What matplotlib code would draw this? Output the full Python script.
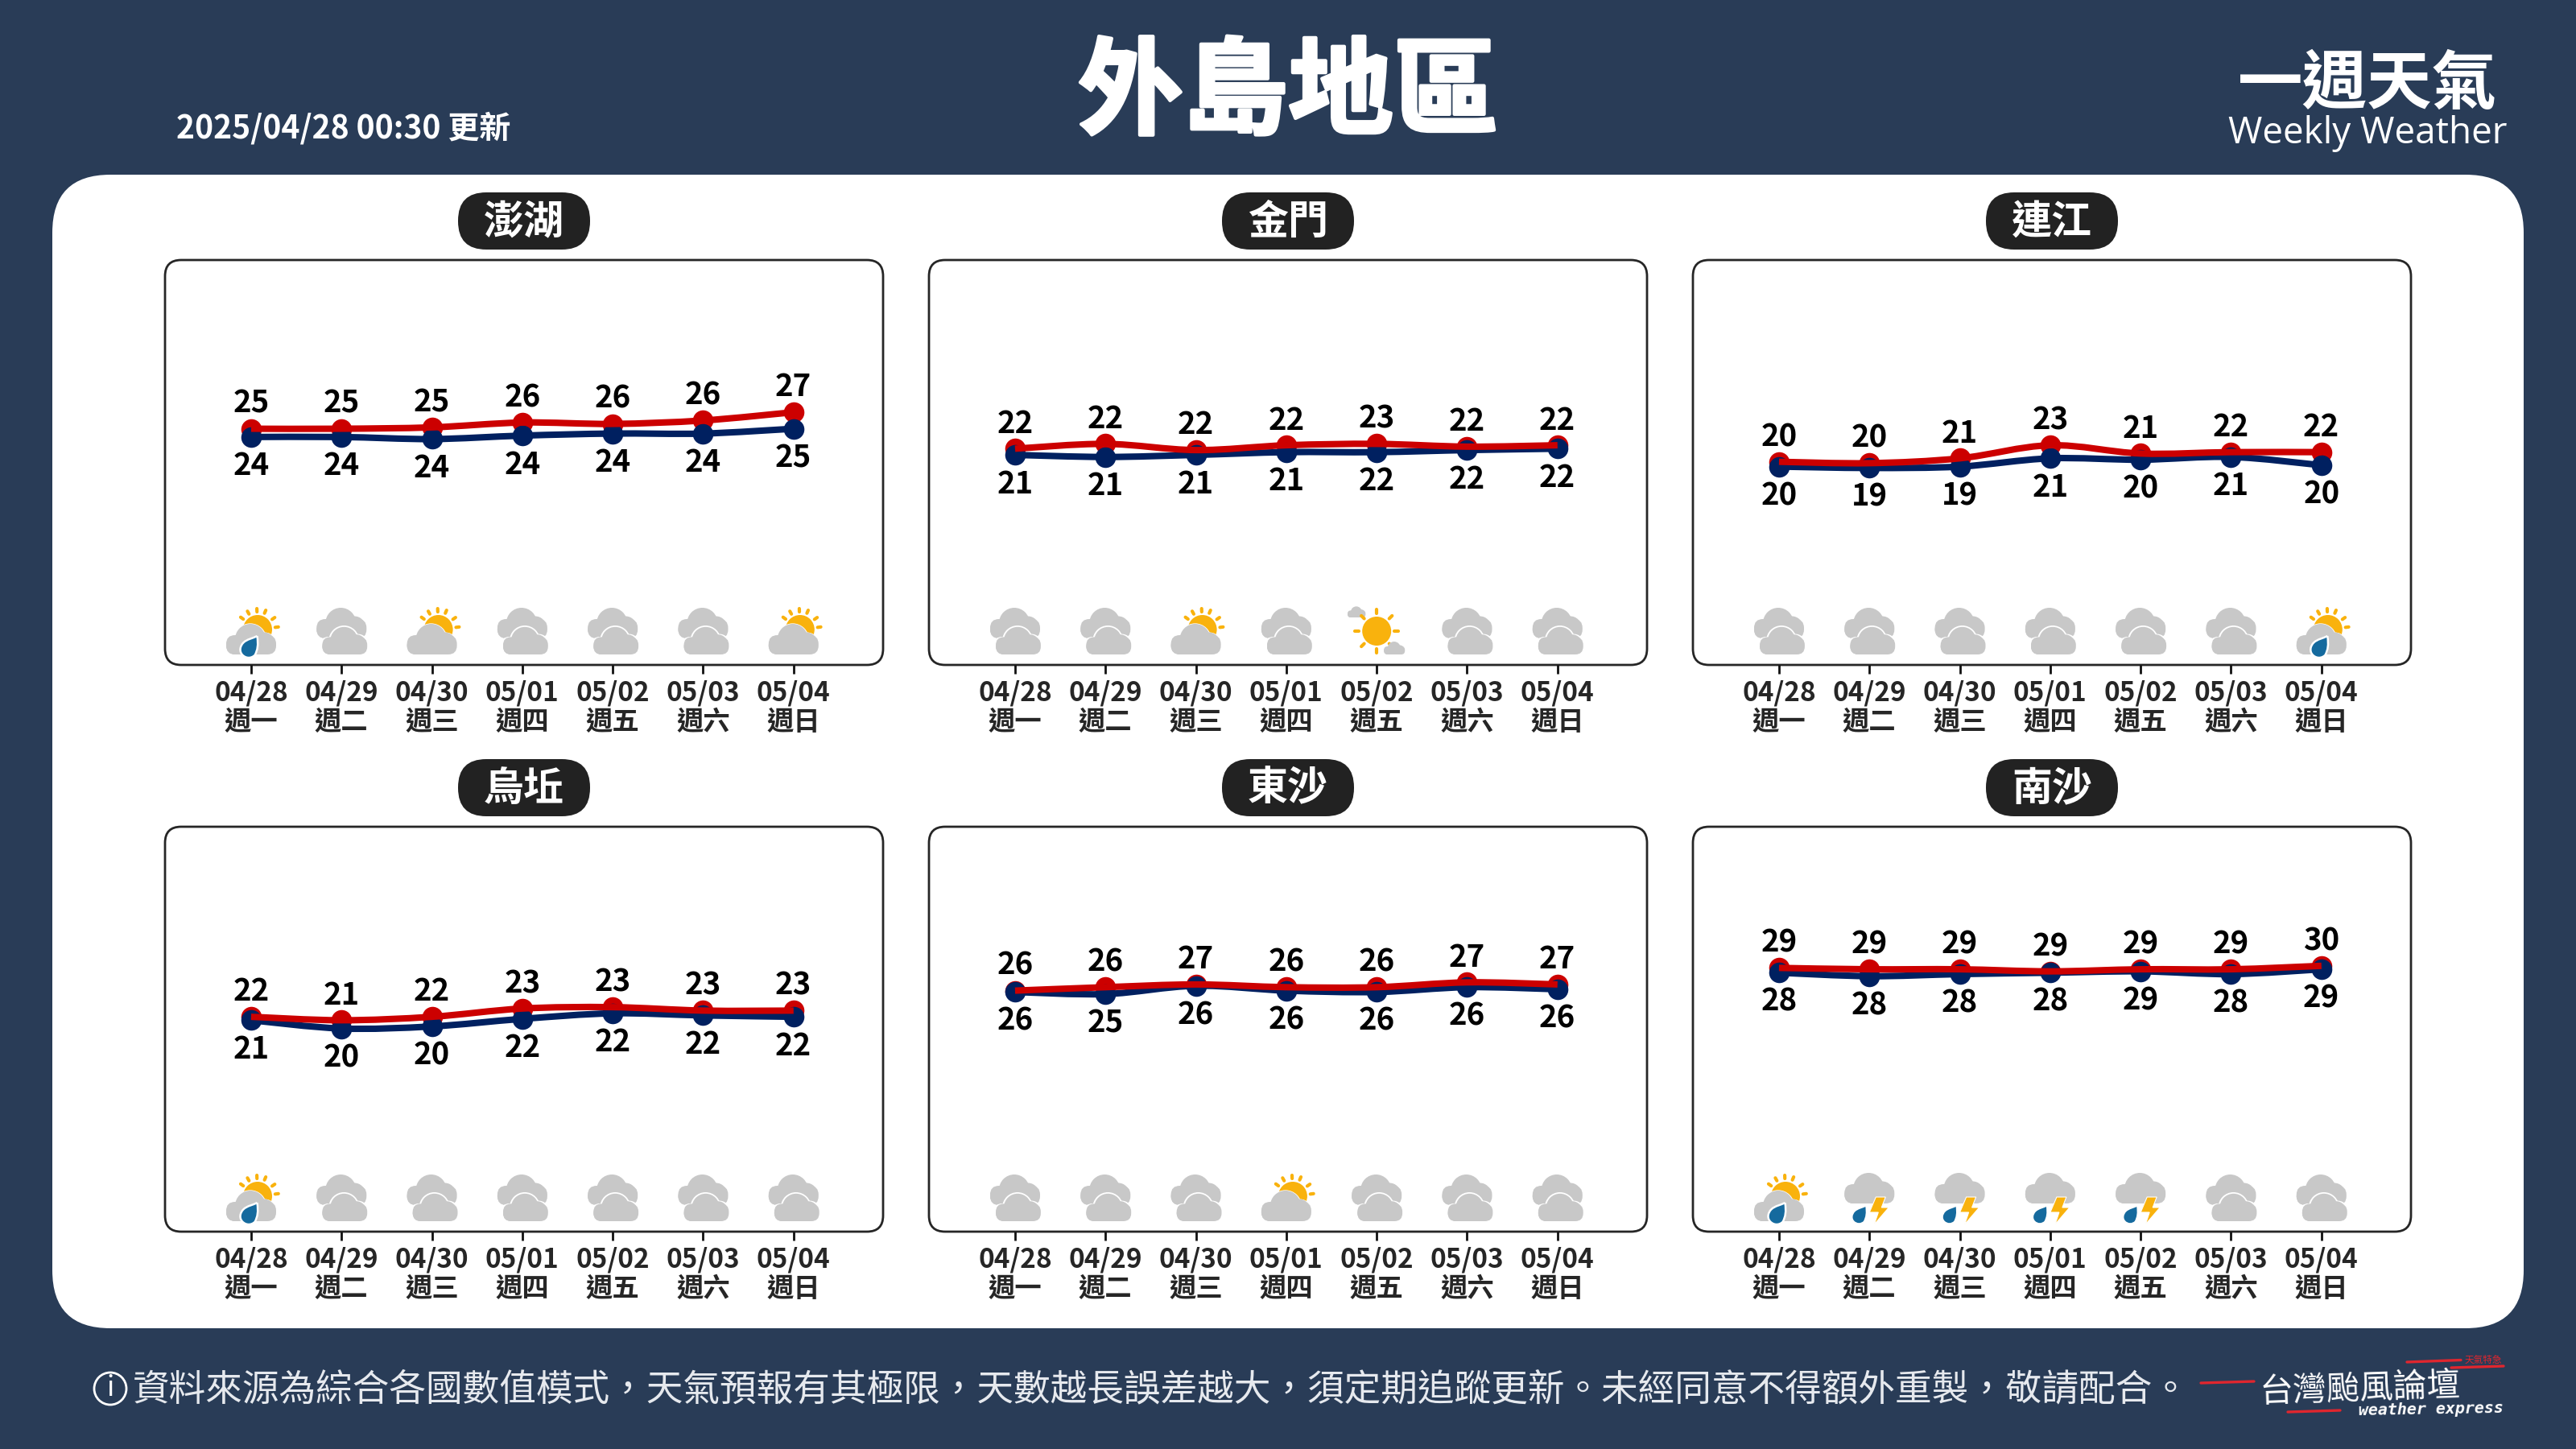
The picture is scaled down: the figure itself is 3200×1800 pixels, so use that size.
import matplotlib
matplotlib.use('Agg')
import matplotlib.pyplot as plt
import matplotlib.patheffects as pe
from matplotlib.patches import Circle, FancyBboxPatch, PathPatch, Polygon
from matplotlib.path import Path
import numpy as np

plt.rcParams['font.family'] = ['Noto Sans CJK TC', 'DejaVu Sans']

# chart values
stations = ['澎湖', '金門', '連江', '烏坵', '東沙', '南沙']
dates = ['04/28', '04/29', '04/30', '05/01', '05/02', '05/03', '05/04']
weekdays = ['週一', '週二', '週三', '週四', '週五', '週六', '週日']

penghu_high = [25.0, 25.0, 25.2, 25.9, 25.7, 26.2, 27.4]
penghu_low = [23.8, 23.8, 23.5, 24.0, 24.3, 24.3, 25.0]
kinmen_high = [22.1, 22.8, 21.9, 22.6, 22.8, 22.4, 22.6]
kinmen_low = [21.2, 20.9, 21.2, 21.6, 21.6, 21.9, 22.1]
lienchiang_high = [20.2, 20.0, 20.7, 22.6, 21.4, 21.6, 21.6]
lienchiang_low = [19.5, 19.3, 19.5, 20.7, 20.5, 20.9, 19.7]
wuqiu_high = [21.9, 21.4, 21.9, 23.1, 23.3, 22.8, 22.8]
wuqiu_low = [21.4, 20.2, 20.5, 21.6, 22.4, 22.1, 21.9]
dongsha_high = [25.7, 26.2, 26.6, 26.2, 26.2, 26.9, 26.6]
dongsha_low = [25.5, 25.2, 26.4, 25.7, 25.5, 26.2, 25.9]
nansha_high = [29.0, 28.8, 28.8, 28.5, 28.8, 28.8, 29.3]
nansha_low = [28.3, 27.8, 28.1, 28.3, 28.5, 28.1, 28.8]

highs = [penghu_high, kinmen_high, lienchiang_high, wuqiu_high, dongsha_high, nansha_high]
lows = [penghu_low, kinmen_low, lienchiang_low, wuqiu_low, dongsha_low, nansha_low]

# printed labels do not always equal the rounded line position
high_labels = [
    [25, 25, 25, 26, 26, 26, 27],
    [22, 22, 22, 22, 23, 22, 22],
    [20, 20, 21, 23, 21, 22, 22],
    [22, 21, 22, 23, 23, 23, 23],
    [26, 26, 27, 26, 26, 27, 27],
    [29, 29, 29, 29, 29, 29, 30],
]
low_labels = [
    [24, 24, 24, 24, 24, 24, 25],
    [21, 21, 21, 21, 22, 22, 22],
    [20, 19, 19, 21, 20, 21, 20],
    [21, 20, 20, 22, 22, 22, 22],
    [26, 25, 26, 26, 26, 26, 26],
    [28, 28, 28, 28, 29, 28, 29],
]

# c = cloudy, p = partly sunny, r = sun and rain, t = thunder, s = sunny
icons = ['rcpcccp', 'ccpcscc', 'ccccccr', 'rcccccc', 'cccpccc', 'rttttcc']

BG = '#293c57'
RED = '#cc0000'
NAVY = '#002060'
GREY = '#c8c8c8'
SUN = '#f9b20d'
BLUE = '#156a9e'
DARK = '#262626'

fig = plt.figure(figsize=(16, 9), facecolor=BG)

# full size axes in picture pixels for the card, frames and icons
bg = fig.add_axes([0, 0, 1, 1], zorder=0)
bg.set_xlim(0, 3200)
bg.set_ylim(1800, 0)
bg.axis('off')


def round_box(x0, y0, x1, y1, r, **kw):
    box = FancyBboxPatch((x0 + r, y0 + r), x1 - x0 - 2 * r, y1 - y0 - 2 * r,
                         boxstyle='round,pad=%f,rounding_size=%f' % (r, r), **kw)
    bg.add_patch(box)


def smooth_path(xs, ys):
    # catmull-rom through the points, as bezier segments
    verts = [(xs[0], ys[0])]
    codes = [Path.MOVETO]
    n = len(xs)
    for i in range(n - 1):
        x0, y0 = (xs[i - 1], ys[i - 1]) if i > 0 else (xs[i], ys[i])
        x3, y3 = (xs[i + 2], ys[i + 2]) if i < n - 2 else (xs[i + 1], ys[i + 1])
        verts.append((xs[i] + (xs[i + 1] - x0) / 6, ys[i] + (ys[i + 1] - y0) / 6))
        verts.append((xs[i + 1] - (x3 - xs[i]) / 6, ys[i + 1] - (y3 - ys[i]) / 6))
        verts.append((xs[i + 1], ys[i + 1]))
        codes += [Path.CURVE4] * 3
    return Path(verts, codes)


def cloud(cx, base, k=1.0, color=GREY, z=3):
    # flat bottomed cloud, base is the y of its lower edge
    round_box(cx - 31 * k, base - 24 * k, cx + 31 * k, base, 11 * k, fc=color, ec='none', zorder=z)
    bg.add_patch(Circle((cx - 1 * k, base - 19 * k), 19 * k, fc=color, ec='none', zorder=z))
    bg.add_patch(Circle((cx + 16 * k, base - 14 * k), 13.5 * k, fc=color, ec='none', zorder=z))
    bg.add_patch(Circle((cx - 20 * k, base - 11 * k), 11 * k, fc=color, ec='none', zorder=z))


def sun_rays(cx, cy, r0, r1, angles, z=2):
    for a in angles:
        t = np.deg2rad(a)
        bg.plot([cx + r0 * np.cos(t), cx + r1 * np.cos(t)], [cy - r0 * np.sin(t), cy - r1 * np.sin(t)],
                color=SUN, lw=1.5, solid_capstyle='round', zorder=z)


def drop(cx, cy, r=10, z=6):
    # tear with its tip to the upper right
    tip = (cx + r * 0.95, cy - r * 1.45)
    verts = [tip, (cx + r * 1.1, cy - r * 0.4), (cx + r * 1.0, cy + r * 0.1), (cx + r * 0.7, cy + r * 0.7),
             (cx + r * 0.3, cy + r * 1.1), (cx - r * 0.3, cy + r * 1.1), (cx - r * 0.7, cy + r * 0.7),
             (cx - r * 1.1, cy + r * 0.3), (cx - r * 1.0, cy - r * 0.3), (cx - r * 0.6, cy - r * 0.7),
             (cx - r * 0.2, cy - r * 1.1), (cx + r * 0.5, cy - r * 1.2), tip]
    codes = [Path.MOVETO] + [Path.CURVE4] * 12
    bg.add_patch(PathPatch(Path(verts, codes), fc=BLUE, ec='white', lw=0.9, zorder=z))


def sun_behind(cx, band):
    bg.add_patch(Circle((cx + 8, band - 31), 18, fc=SUN, ec='none', zorder=2))
    sun_rays(cx + 8, band - 31, 22, 26, [7, 35, 67, 92, 119, 144])
    cloud(cx, band + 2, 1.07, color='white', z=2.5)
    cloud(cx, band, 1.0, z=3)


def draw_icon(kind, x, band):
    # x is the tick position, band the lower edge of the icon row
    if kind == 'c':
        cloud(x, band - 20, 1.0, z=3)
        cloud(x + 4, band + 2, 1.0, color='white', z=4)
        cloud(x + 4, band, 0.9, z=5)
    elif kind == 'p':
        sun_behind(x, band)
    elif kind == 'r':
        sun_behind(x, band)
        drop(x - 3, band - 7, 11)
    elif kind == 't':
        cloud(x, band - 22, 1.0, z=3)
        drop(x - 13, band - 6, 9.5)
        pts = [(8, -30), (20, -30), (15, -17), (24, -17), (6, 4), (11, -11), (0, -11)]
        bg.add_patch(Polygon([(x + a, band + b) for a, b in pts], fc=SUN, ec='white', lw=0.4, zorder=6))
    else:
        bg.add_patch(Circle((x, band - 29), 18, fc=SUN, ec='none', zorder=4))
        sun_rays(x, band - 29, 22, 27, range(0, 360, 45), z=4)
        cloud(x - 25, band - 46, 0.36, z=3)
        cloud(x + 22, band, 0.42, z=5)


# white card
round_box(65, 217, 3135, 1650, 72, fc='white', ec='none', zorder=1)

lefts = [205, 1154, 2103]
tops = [323, 1027]
panel_w, panel_h = 892, 503
ymin, ymax = -9.3, 49.5
tick_labels = [d + '\n' + w for d, w in zip(dates, weekdays)]

for n, name in enumerate(stations):
    left = lefts[n % 3]
    top = tops[n // 3]
    round_box(left, top, left + panel_w, top + panel_h, 20, fc='white', ec=DARK, lw=1.0, zorder=2)

    mid = left + panel_w / 2
    round_box(mid - 82, top - 84, mid + 82, top - 13, 35, fc='#222222', ec='none', zorder=2)
    bg.text(mid, top - 47, name, color='white', fontsize=18, fontweight='bold',
            ha='center', va='center', zorder=3)

    ax = fig.add_axes([left / 3200, 1 - (top + panel_h) / 1800, panel_w / 3200, panel_h / 1800], zorder=1)
    ax.patch.set_visible(False)
    for s in ax.spines.values():
        s.set_visible(False)
    ax.set_xlim(-0.952, 6.99)
    ax.set_ylim(ymin, ymax)
    ax.set_yticks([])
    x = np.arange(len(dates))
    ax.set_xticks(x, tick_labels, fontsize=12, fontweight='bold', color=DARK, linespacing=1.12)
    ax.tick_params(axis='x', length=3.8, width=1.0, color='#111111', pad=3)

    ax.plot(x, highs[n], 'o', color=RED, ms=9.2, mew=0, zorder=2)
    ax.plot(x, lows[n], 'o', color=NAVY, ms=9.2, mew=0, zorder=3)
    ax.add_patch(PathPatch(smooth_path(x, lows[n]), fc='none', ec=NAVY, lw=2.9, zorder=4))
    ax.add_patch(PathPatch(smooth_path(x, highs[n]), fc='none', ec=RED, lw=2.9, zorder=5))

    for i in x:
        ax.annotate(str(high_labels[n][i]), (i, highs[n][i]), xytext=(0, 11.2), textcoords='offset points',
                    ha='center', va='center', fontsize=13.8, fontweight='bold', color='black')
        ax.annotate(str(low_labels[n][i]), (i, lows[n][i]), xytext=(0, -13), textcoords='offset points',
                    ha='center', va='center', fontsize=13.8, fontweight='bold', color='black')
        draw_icon(icons[n][i], left + 107 + 112.3 * i, top + 490)

# header
bg.text(1600, 118, '外島地區', color='white', fontsize=47, fontweight='black', ha='center', va='center',
        path_effects=[pe.withStroke(linewidth=1.5, foreground='white')])
bg.text(219, 160, '2025/04/28 00:30 更新', color='white', fontsize=14.05, fontweight='bold', ha='left', va='center')
bg.text(2941, 105, '一週天氣', color='white', fontsize=29, fontweight='bold', ha='center', va='center')
bg.text(2941, 166, 'Weekly Weather', color='white', fontsize=16.5, family=['Open Sans', 'DejaVu Sans'],
        ha='center', va='center')

# footer
bg.add_patch(Circle((137, 1725), 20, fc='none', ec='white', lw=1.0, zorder=2))
bg.text(137, 1725, 'i', color='white', fontsize=12, ha='center', va='center')
bg.text(165, 1726, '資料來源為綜合各國數值模式，天氣預報有其極限，天數越長誤差越大，須定期追蹤更新。未經同意不得額外重製，敬請配合。',
        color='#e6e9ee', fontsize=16.45, fontweight='light', ha='left', va='center')

# logo
for xs, ys in [((2990, 3057), (1692, 1689.5)), ((3045, 3110), (1699, 1697)),
               ((2734, 2800), (1718, 1716)), ((2842, 2907), (1754, 1752))]:
    bg.plot(xs, ys, color='#e0262e', lw=1.2, solid_capstyle='round')
bg.text(2932, 1726, '台灣颱風論壇', color='white', fontsize=15, fontweight='medium', rotation=2, ha='center', va='center')
bg.text(3020, 1751, 'weather express', color='white', fontsize=7.2, family='DejaVu Sans Mono', fontstyle='oblique',
        fontweight='bold', rotation=1, ha='center', va='center')
bg.text(3085, 1689, '天氣特急', color='#e0262e', fontsize=4.2, ha='center', va='center')

fig.savefig('out.png', dpi=200, facecolor=BG)
